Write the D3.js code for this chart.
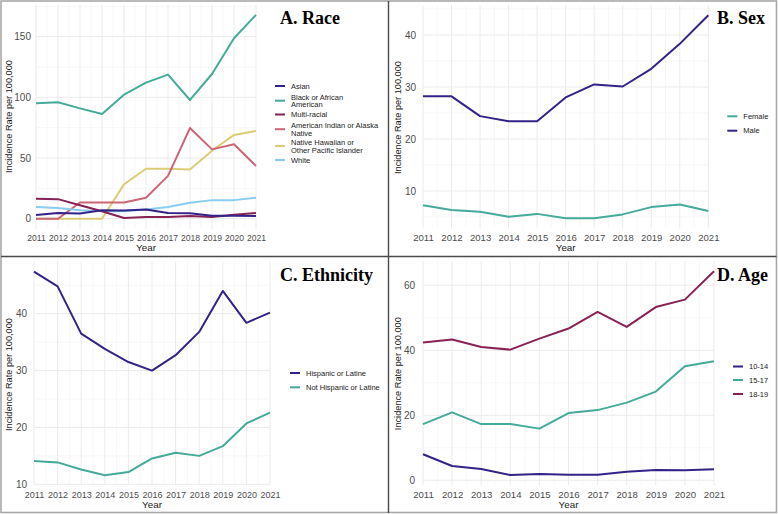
<!DOCTYPE html>
<html>
<head>
<meta charset="utf-8">
<script src="https://cdn.jsdelivr.net/npm/d3@7"></script>
<style>
  body { margin: 0; background: #fff; }
  svg { display: block; font-family: "Liberation Sans", Arial, sans-serif; }
</style>
</head>
<body>
<script>
// incidence rate per 100,000, 2011-2021
const years = [2011, 2012, 2013, 2014, 2015, 2016, 2017, 2018, 2019, 2020, 2021];

// A. Race
const raceAsian = [3.1, 4.7, 4.2, 6.9, 6.7, 7.5, 4.7, 4.4, 2.5, 2.5, 2.2];
const raceBlack = [95.1, 95.9, 90.9, 86.3, 102.2, 112.1, 118.7, 97.8, 119.2, 148.6, 167.9];
const raceMulti = [16.4, 16.1, 11.1, 6.1, 0.6, 1.4, 1.4, 2.2, 1.4, 3.3, 4.7];
const raceAIAN = [0, 0, 13.3, 13.3, 13.3, 17.2, 35.3, 74.7, 57.1, 61.3, 43.4];
const raceNHPI = [0, 0, 0, 0, 28.3, 41.1, 41.1, 40.6, 56.0, 69.0, 72.3];
const raceWhite = [9.7, 8.9, 6.9, 6.1, 6.1, 7.5, 9.7, 13.1, 15.3, 15.3, 17.2];

// B. Sex
const sexFemale = [7.25, 6.35, 6.0, 5.05, 5.6, 4.75, 4.75, 5.5, 6.9, 7.4, 6.15];
const sexMale = [28.2, 28.2, 24.4, 23.4, 23.4, 28.0, 30.5, 30.1, 33.5, 38.3, 43.8];

// C. Ethnicity
const ethHispanic = [47.4, 44.8, 36.5, 33.8, 31.5, 30.0, 32.7, 36.8, 44.0, 38.4, 40.2];
const ethNotHispanic = [14.1, 13.85, 12.6, 11.6, 12.15, 14.55, 15.55, 15.0, 16.7, 20.7, 22.6];

// D. Age
const age1014 = [8.0, 4.4, 3.5, 1.6, 1.95, 1.7, 1.7, 2.6, 3.2, 3.1, 3.4];
const age1517 = [17.3, 20.9, 17.3, 17.3, 15.9, 20.7, 21.6, 23.9, 27.3, 35.1, 36.6];
const age1819 = [42.4, 43.3, 41.0, 40.2, 43.6, 46.7, 51.8, 47.2, 53.3, 55.6, 64.3];

const raceLabels = ["Asian", "Black or African\nAmerican", "Multi-racial",
  "American Indian or Alaska\nNative", "Native Hawaiian or\nOther Pacific Islander", "White"];

const indigo = "#332288", teal = "#44AA99", wine = "#882255",
  rose = "#CC6677", sand = "#DDCC77", cyan = "#88CCEE";

const W = 778, H = 514;

const svg = d3.select("body").append("svg")
  .attr("width", W)
  .attr("height", H);

const panels = [
  {
    title: "A. Race", tx: 280, ty: 24,
    x0: 36, x1: 256, yRef: [0, 150], yPx: [218.7, 36.6],
    yTicks: [0, 50, 100, 150], yMinor: [25, 75, 125, 175],
    xLabY: 240.5, xFont: 8.6, yPad: 5, yTitleX: 11.5, yTitleY: 116.5, xTitleY: 250.5,
    key: [275, 285], legY: [86, 100.7, 114.5, 129.2, 146, 160], lineGap: 7.8,
    series: [
      { name: raceLabels[0], values: raceAsian, color: indigo },
      { name: raceLabels[1], values: raceBlack, color: teal },
      { name: raceLabels[2], values: raceMulti, color: wine },
      { name: raceLabels[3], values: raceAIAN, color: rose },
      { name: raceLabels[4], values: raceNHPI, color: sand },
      { name: raceLabels[5], values: raceWhite, color: cyan }
    ],
    // draw order: keep thin lines on top like the original
    order: [1, 4, 3, 5, 2, 0]
  },
  {
    title: "B. Sex", tx: 717, ty: 24,
    x0: 423, x1: 708.3, yRef: [10, 40], yPx: [191, 35],
    yTicks: [10, 20, 30, 40], yMinor: [5, 15, 25, 35, 45],
    xLabY: 240.5, xFont: 9.6, yPad: 7, yTitleX: 400.5, yTitleY: 117.5, xTitleY: 250.5,
    key: [727.3, 737.3], legY: [116.3, 130.7],
    series: [
      { name: "Female", values: sexFemale, color: teal },
      { name: "Male", values: sexMale, color: indigo }
    ]
  },
  {
    title: "C. Ethnicity", tx: 280, ty: 280.5,
    x0: 34, x1: 270, yRef: [10, 40], yPx: [484.3, 313.7],
    yTicks: [10, 20, 30, 40], yMinor: [15, 25, 35, 45],
    xLabY: 497.5, xFont: 9, yPad: 7, yTitleX: 11.5, yTitleY: 374.5, xTitleY: 507.7,
    key: [290, 300], legY: [373, 387.3],
    series: [
      { name: "Hispanic or Latine", values: ethHispanic, color: indigo },
      { name: "Not Hispanic or Latine", values: ethNotHispanic, color: teal }
    ]
  },
  {
    title: "D. Age", tx: 717, ty: 280.5,
    x0: 423, x1: 714, yRef: [0, 60], yPx: [480.3, 285.3],
    yTicks: [0, 20, 40, 60], yMinor: [10, 30, 50],
    xLabY: 497.5, xFont: 9.6, yPad: 8, yTitleX: 400.5, yTitleY: 373.7, xTitleY: 507.7,
    key: [733, 743], legY: [366.5, 380, 394],
    series: [
      { name: "10-14", values: age1014, color: indigo },
      { name: "15-17", values: age1517, color: teal },
      { name: "18-19", values: age1819, color: wine }
    ]
  }
];

function drawPanel(p) {
  const g = svg.append("g");

  const x = d3.scaleLinear()
    .domain([years[0], years[years.length - 1]])
    .range([p.x0, p.x1]);

  const all = p.series.flatMap(s => s.values);
  const [lo, hi] = d3.extent(all);
  const pad = (hi - lo) * 0.05;

  const y = d3.scaleLinear()
    .domain(p.yRef)
    .range(p.yPx);

  const yTop = y(hi + pad), yBot = y(lo - pad);

  // minor grid
  const xMinor = years.slice(1).map(v => v - 0.5);
  g.append("g").selectAll("line")
    .data(xMinor)
    .join("line")
    .attr("x1", d => x(d)).attr("x2", d => x(d))
    .attr("y1", yTop).attr("y2", yBot)
    .attr("stroke", "#f2f2f2").attr("stroke-width", 0.6);
  g.append("g").selectAll("line")
    .data(p.yMinor.filter(v => v >= lo - pad && v <= hi + pad))
    .join("line")
    .attr("x1", p.x0).attr("x2", p.x1)
    .attr("y1", d => y(d)).attr("y2", d => y(d))
    .attr("stroke", "#f2f2f2").attr("stroke-width", 0.6);

  // major grid
  g.append("g").selectAll("line")
    .data(years)
    .join("line")
    .attr("x1", d => x(d)).attr("x2", d => x(d))
    .attr("y1", yTop).attr("y2", yBot)
    .attr("stroke", "#ebebeb").attr("stroke-width", 1);
  g.append("g").selectAll("line")
    .data(p.yTicks)
    .join("line")
    .attr("x1", p.x0).attr("x2", p.x1)
    .attr("y1", d => y(d)).attr("y2", d => y(d))
    .attr("stroke", "#ebebeb").attr("stroke-width", 1);

  // axes
  const ax = g.append("g")
    .attr("transform", `translate(0,${p.xLabY})`)
    .call(d3.axisBottom(x).tickValues(years).tickFormat(d3.format("d")).tickSize(0).tickPadding(0));
  ax.select(".domain").remove();
  ax.selectAll("text")
    .attr("dy", null)
    .attr("fill", "#4d4d4d")
    .attr("font-size", p.xFont)
    .attr("font-family", null);

  const ay = g.append("g")
    .attr("transform", `translate(${p.x0},0)`)
    .call(d3.axisLeft(y).tickValues(p.yTicks).tickSize(0).tickPadding(p.yPad));
  ay.select(".domain").remove();
  ay.selectAll("text")
    .attr("fill", "#4d4d4d")
    .attr("font-size", 10)
    .attr("font-family", null);

  // axis titles
  g.append("text")
    .attr("transform", `translate(${p.yTitleX},${p.yTitleY}) rotate(-90)`)
    .attr("text-anchor", "middle")
    .attr("font-size", 9.2)
    .attr("fill", "#1a1a1a")
    .text("Incidence Rate per 100,000");

  g.append("text")
    .attr("x", (p.x0 + p.x1) / 2)
    .attr("y", p.xTitleY)
    .attr("text-anchor", "middle")
    .attr("font-size", 9.8)
    .attr("fill", "#1a1a1a")
    .text("Year");

  // lines
  const line = d3.line()
    .x((d, i) => x(years[i]))
    .y(d => y(d));

  const order = p.order || p.series.map((s, i) => i);
  g.append("g").selectAll("path")
    .data(order.map(i => p.series[i]))
    .join("path")
    .attr("d", s => line(s.values))
    .attr("fill", "none")
    .attr("stroke", s => s.color)
    .attr("stroke-width", 2)
    .attr("stroke-linejoin", "round");

  // legend
  const gap = p.lineGap || 8;
  const leg = g.append("g").selectAll("g")
    .data(p.series)
    .join("g")
    .attr("transform", (s, i) => `translate(0,${p.legY[i]})`);
  leg.append("line")
    .attr("x1", p.key[0]).attr("x2", p.key[1])
    .attr("stroke", s => s.color)
    .attr("stroke-width", 2);
  leg.each(function (s) {
    const parts = s.name.split("\n");
    const t = d3.select(this).append("text")
      .attr("x", p.key[1] + 6)
      .attr("font-size", 7.5)
      .attr("fill", "#1a1a1a");
    parts.forEach((txt, j) => {
      t.append("tspan")
        .attr("x", p.key[1] + 6)
        .attr("y", (j - (parts.length - 1) / 2) * gap + 2.7)
        .text(txt);
    });
  });

  // panel title
  g.append("text")
    .attr("x", p.tx)
    .attr("y", p.ty)
    .attr("font-family", "'Liberation Serif', 'Times New Roman', serif")
    .attr("font-weight", "bold")
    .attr("font-size", 18)
    .attr("fill", "#000")
    .text(p.title);
}

panels.forEach(drawPanel);

// frame and dividers
svg.append("rect")
  .attr("x", 1).attr("y", 1)
  .attr("width", 775.5).attr("height", 511.5)
  .attr("fill", "none")
  .attr("stroke", "#a8a8a8")
  .attr("stroke-width", 1.6);
svg.append("line")
  .attr("x1", 388.5).attr("x2", 388.5)
  .attr("y1", 1).attr("y2", 513)
  .attr("stroke", "#4a4a4a").attr("stroke-width", 1.4);
svg.append("line")
  .attr("x1", 1).attr("x2", 776.5)
  .attr("y1", 256.5).attr("y2", 256.5)
  .attr("stroke", "#4a4a4a").attr("stroke-width", 1.4);
</script>
</body>
</html>
